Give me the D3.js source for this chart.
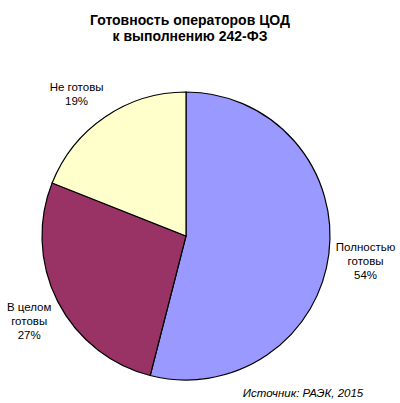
<!DOCTYPE html>
<html>
<head>
<meta charset="utf-8">
<script src="https://cdn.jsdelivr.net/npm/d3@7"></script>
<style>
  body { margin: 0; background: #fff; }
  text { font-family: Arial, "Liberation Sans", sans-serif; fill: #000; }
</style>
</head>
<body>
<script>
// chart data
let categories = ["Полностью готовы", "В целом готовы", "Не готовы"];
let labelLines = [["Полностью", "готовы"], ["В целом", "готовы"], ["Не готовы"]];
let shares = [54, 27, 19];
let colorList = ["#9999ff", "#993366", "#ffffcc"];

let titleLines = ["Готовность операторов ЦОД", "к выполнению 242-ФЗ"];
let sourceText = "Источник: РАЭК, 2015";

let w = 400, h = 403;
let cx = 186, cy = 236, r = 144;

let svg = d3.select("body").append("svg")
  .attr("width", w)
  .attr("height", h);

// title
svg.append("text")
  .attr("x", 190)
  .attr("y", 25)
  .attr("text-anchor", "middle")
  .style("font-weight", "bold")
  .style("font-size", "14px")
  .selectAll("tspan")
  .data(titleLines)
  .enter()
  .append("tspan")
  .attr("x", 190)
  .attr("dy", function(d, i) { return i === 0 ? 0 : 16; })
  .text(function(d) { return d; });

let pie = d3.pie().sort(null).value(function(d) { return d; });
let arcs = pie(shares);

let arc = d3.arc().innerRadius(0).outerRadius(r);

let g = svg.append("g").attr("transform", "translate(" + cx + "," + cy + ")");

g.selectAll("path")
  .data(arcs)
  .enter()
  .append("path")
  .attr("d", arc)
  .attr("fill", function(d, i) { return colorList[i]; })
  .attr("stroke", "#000")
  .attr("stroke-width", 1.2);

// label placement (layout only)
let labelRadius = [181, 176, 168];
let labelDx = [0, 0, -15];
let labelDy = [2.5, 5, -3];

let labels = g.selectAll("g.lbl")
  .data(arcs)
  .enter()
  .append("g")
  .attr("class", "lbl")
  .attr("transform", function(d, i) {
    let a = (d.startAngle + d.endAngle) / 2;
    let x = Math.sin(a) * labelRadius[i] + labelDx[i];
    let y = -Math.cos(a) * labelRadius[i] + labelDy[i];
    return "translate(" + x + "," + y + ")";
  });

labels.append("text")
  .attr("text-anchor", "middle")
  .style("font-size", "11.5px")
  .each(function(d, i) {
    let lines = labelLines[i].concat([shares[i] + "%"]);
    let t = d3.select(this);
    let n = lines.length;
    lines.forEach(function(s, k) {
      t.append("tspan")
        .attr("x", 0)
        .attr("y", (k - (n - 1) / 2) * 14.3 + 4)
        .text(s);
    });
  });

// source
svg.append("text")
  .attr("x", 303)
  .attr("y", 397)
  .attr("text-anchor", "middle")
  .style("font-style", "italic")
  .style("font-size", "11.5px")
  .text(sourceText);
</script>
</body>
</html>
